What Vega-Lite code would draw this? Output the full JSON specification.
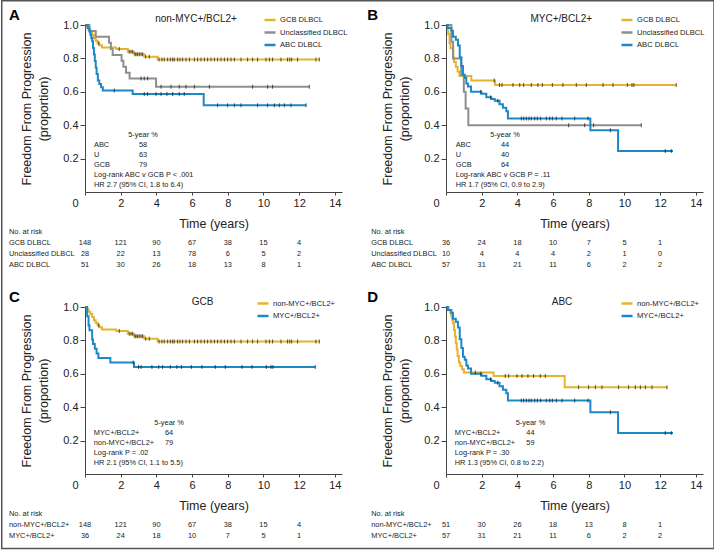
{
"$schema": "https://vega.github.io/schema/vega-lite/v6.json",
"padding": 0,
"autosize": {"type": "pad"},
"background": "white",
"columns": 2,
"spacing": {"column": 104, "row": 115},
"bounds": "flush",
"resolve": {"scale": {"color": "independent"}, "legend": {"color": "independent"}},
"config": {
 "view": {"stroke": null},
 "axis": {"grid": false, "labelOverlap": false, "labelFont": "Liberation Sans", "labelFontSize": 11, "labelColor": "#222", "titleFont": "Liberation Sans", "titleFontSize": 12.5, "titleFontWeight": "normal", "titleColor": "#222", "domainColor": "#444", "tickColor": "#444"},
 "text": {"font": "Liberation Sans", "fontSize": 7.4, "color": "#222"},
 "legend": {"symbolType": "stroke", "symbolSize": 121, "symbolStrokeWidth": 2.5, "labelFont": "Liberation Sans", "labelFontSize": 7.6, "labelColor": "#222", "rowPadding": 0.5, "padding": 0, "labelOffset": 3}
},
"datasets": {
"km": [
{"m":"non-MYC+/BCL2+","c":"GCB DLBCL","t":0,"s":1},{"m":"non-MYC+/BCL2+","c":"GCB DLBCL","t":0.1,"s":0.986},{"m":"non-MYC+/BCL2+","c":"GCB DLBCL","t":0.2,"s":0.972},{"m":"non-MYC+/BCL2+","c":"GCB DLBCL","t":0.3,"s":0.958},{"m":"non-MYC+/BCL2+","c":"GCB DLBCL","t":0.4,"s":0.94},{"m":"non-MYC+/BCL2+","c":"GCB DLBCL","t":0.5,"s":0.92},{"m":"non-MYC+/BCL2+","c":"GCB DLBCL","t":0.6,"s":0.905},{"m":"non-MYC+/BCL2+","c":"GCB DLBCL","t":0.7,"s":0.89},{"m":"non-MYC+/BCL2+","c":"GCB DLBCL","t":0.8,"s":0.878},{"m":"non-MYC+/BCL2+","c":"GCB DLBCL","t":0.95,"s":0.865},{"m":"non-MYC+/BCL2+","c":"GCB DLBCL","t":1.75,"s":0.856},{"m":"non-MYC+/BCL2+","c":"GCB DLBCL","t":2.4,"s":0.84},{"m":"non-MYC+/BCL2+","c":"GCB DLBCL","t":2.75,"s":0.825},{"m":"non-MYC+/BCL2+","c":"GCB DLBCL","t":3.32,"s":0.81},{"m":"non-MYC+/BCL2+","c":"GCB DLBCL","t":4.07,"s":0.794},{"m":"non-MYC+/BCL2+","c":"GCB DLBCL","t":13.13,"s":0.794},
{"m":"non-MYC+/BCL2+","c":"Unclassified DLBCL","t":0,"s":1},{"m":"non-MYC+/BCL2+","c":"Unclassified DLBCL","t":0.25,"s":0.964},{"m":"non-MYC+/BCL2+","c":"Unclassified DLBCL","t":0.6,"s":0.929},{"m":"non-MYC+/BCL2+","c":"Unclassified DLBCL","t":1.35,"s":0.893},{"m":"non-MYC+/BCL2+","c":"Unclassified DLBCL","t":1.45,"s":0.857},{"m":"non-MYC+/BCL2+","c":"Unclassified DLBCL","t":1.55,"s":0.821},{"m":"non-MYC+/BCL2+","c":"Unclassified DLBCL","t":2.05,"s":0.786},{"m":"non-MYC+/BCL2+","c":"Unclassified DLBCL","t":2.15,"s":0.75},{"m":"non-MYC+/BCL2+","c":"Unclassified DLBCL","t":2.3,"s":0.714},{"m":"non-MYC+/BCL2+","c":"Unclassified DLBCL","t":2.5,"s":0.679},{"m":"non-MYC+/BCL2+","c":"Unclassified DLBCL","t":3.98,"s":0.63},{"m":"non-MYC+/BCL2+","c":"Unclassified DLBCL","t":12.57,"s":0.63},
{"m":"non-MYC+/BCL2+","c":"ABC DLBCL","t":0,"s":1},{"m":"non-MYC+/BCL2+","c":"ABC DLBCL","t":0.15,"s":0.98},{"m":"non-MYC+/BCL2+","c":"ABC DLBCL","t":0.25,"s":0.961},{"m":"non-MYC+/BCL2+","c":"ABC DLBCL","t":0.3,"s":0.941},{"m":"non-MYC+/BCL2+","c":"ABC DLBCL","t":0.35,"s":0.922},{"m":"non-MYC+/BCL2+","c":"ABC DLBCL","t":0.4,"s":0.902},{"m":"non-MYC+/BCL2+","c":"ABC DLBCL","t":0.45,"s":0.863},{"m":"non-MYC+/BCL2+","c":"ABC DLBCL","t":0.5,"s":0.824},{"m":"non-MYC+/BCL2+","c":"ABC DLBCL","t":0.55,"s":0.784},{"m":"non-MYC+/BCL2+","c":"ABC DLBCL","t":0.6,"s":0.745},{"m":"non-MYC+/BCL2+","c":"ABC DLBCL","t":0.65,"s":0.706},{"m":"non-MYC+/BCL2+","c":"ABC DLBCL","t":0.72,"s":0.667},{"m":"non-MYC+/BCL2+","c":"ABC DLBCL","t":0.8,"s":0.647},{"m":"non-MYC+/BCL2+","c":"ABC DLBCL","t":0.9,"s":0.627},{"m":"non-MYC+/BCL2+","c":"ABC DLBCL","t":1.0,"s":0.608},{"m":"non-MYC+/BCL2+","c":"ABC DLBCL","t":2.67,"s":0.587},{"m":"non-MYC+/BCL2+","c":"ABC DLBCL","t":6.65,"s":0.52},{"m":"non-MYC+/BCL2+","c":"ABC DLBCL","t":12.4,"s":0.52},
{"m":"MYC+/BCL2+","c":"GCB DLBCL","t":0,"s":1},{"m":"MYC+/BCL2+","c":"GCB DLBCL","t":0.12,"s":0.944},{"m":"MYC+/BCL2+","c":"GCB DLBCL","t":0.2,"s":0.889},{"m":"MYC+/BCL2+","c":"GCB DLBCL","t":0.25,"s":0.861},{"m":"MYC+/BCL2+","c":"GCB DLBCL","t":0.4,"s":0.806},{"m":"MYC+/BCL2+","c":"GCB DLBCL","t":0.45,"s":0.778},{"m":"MYC+/BCL2+","c":"GCB DLBCL","t":0.55,"s":0.75},{"m":"MYC+/BCL2+","c":"GCB DLBCL","t":0.65,"s":0.722},{"m":"MYC+/BCL2+","c":"GCB DLBCL","t":0.75,"s":0.694},{"m":"MYC+/BCL2+","c":"GCB DLBCL","t":1.42,"s":0.667},{"m":"MYC+/BCL2+","c":"GCB DLBCL","t":2.75,"s":0.64},{"m":"MYC+/BCL2+","c":"GCB DLBCL","t":12.9,"s":0.64},
{"m":"MYC+/BCL2+","c":"Unclassified DLBCL","t":0,"s":1},{"m":"MYC+/BCL2+","c":"Unclassified DLBCL","t":0.3,"s":0.9},{"m":"MYC+/BCL2+","c":"Unclassified DLBCL","t":0.4,"s":0.8},{"m":"MYC+/BCL2+","c":"Unclassified DLBCL","t":0.85,"s":0.7},{"m":"MYC+/BCL2+","c":"Unclassified DLBCL","t":1.0,"s":0.6},{"m":"MYC+/BCL2+","c":"Unclassified DLBCL","t":1.1,"s":0.5},{"m":"MYC+/BCL2+","c":"Unclassified DLBCL","t":1.25,"s":0.4},{"m":"MYC+/BCL2+","c":"Unclassified DLBCL","t":10.94,"s":0.4},
{"m":"MYC+/BCL2+","c":"ABC DLBCL","t":0,"s":1},{"m":"MYC+/BCL2+","c":"ABC DLBCL","t":0.1,"s":0.982},{"m":"MYC+/BCL2+","c":"ABC DLBCL","t":0.3,"s":0.965},{"m":"MYC+/BCL2+","c":"ABC DLBCL","t":0.39,"s":0.93},{"m":"MYC+/BCL2+","c":"ABC DLBCL","t":0.55,"s":0.912},{"m":"MYC+/BCL2+","c":"ABC DLBCL","t":0.67,"s":0.877},{"m":"MYC+/BCL2+","c":"ABC DLBCL","t":0.77,"s":0.807},{"m":"MYC+/BCL2+","c":"ABC DLBCL","t":0.86,"s":0.754},{"m":"MYC+/BCL2+","c":"ABC DLBCL","t":0.95,"s":0.702},{"m":"MYC+/BCL2+","c":"ABC DLBCL","t":1.05,"s":0.684},{"m":"MYC+/BCL2+","c":"ABC DLBCL","t":1.14,"s":0.649},{"m":"MYC+/BCL2+","c":"ABC DLBCL","t":1.23,"s":0.632},{"m":"MYC+/BCL2+","c":"ABC DLBCL","t":1.4,"s":0.6},{"m":"MYC+/BCL2+","c":"ABC DLBCL","t":1.98,"s":0.589},{"m":"MYC+/BCL2+","c":"ABC DLBCL","t":2.26,"s":0.568},{"m":"MYC+/BCL2+","c":"ABC DLBCL","t":2.54,"s":0.557},{"m":"MYC+/BCL2+","c":"ABC DLBCL","t":2.73,"s":0.546},{"m":"MYC+/BCL2+","c":"ABC DLBCL","t":3.0,"s":0.525},{"m":"MYC+/BCL2+","c":"ABC DLBCL","t":3.19,"s":0.504},{"m":"MYC+/BCL2+","c":"ABC DLBCL","t":3.38,"s":0.483},{"m":"MYC+/BCL2+","c":"ABC DLBCL","t":3.47,"s":0.44},{"m":"MYC+/BCL2+","c":"ABC DLBCL","t":8.09,"s":0.37},{"m":"MYC+/BCL2+","c":"ABC DLBCL","t":9.64,"s":0.245},{"m":"MYC+/BCL2+","c":"ABC DLBCL","t":12.72,"s":0.245}
],
"cens": [
{"m":"non-MYC+/BCL2+","c":"GCB DLBCL","t":0.77,"s":0.89},{"m":"non-MYC+/BCL2+","c":"GCB DLBCL","t":1.92,"s":0.856},{"m":"non-MYC+/BCL2+","c":"GCB DLBCL","t":2.48,"s":0.84},{"m":"non-MYC+/BCL2+","c":"GCB DLBCL","t":2.58,"s":0.84},{"m":"non-MYC+/BCL2+","c":"GCB DLBCL","t":2.67,"s":0.84},{"m":"non-MYC+/BCL2+","c":"GCB DLBCL","t":2.8,"s":0.825},{"m":"non-MYC+/BCL2+","c":"GCB DLBCL","t":2.86,"s":0.825},{"m":"non-MYC+/BCL2+","c":"GCB DLBCL","t":2.95,"s":0.825},{"m":"non-MYC+/BCL2+","c":"GCB DLBCL","t":3.04,"s":0.825},{"m":"non-MYC+/BCL2+","c":"GCB DLBCL","t":3.14,"s":0.825},{"m":"non-MYC+/BCL2+","c":"GCB DLBCL","t":3.23,"s":0.825},{"m":"non-MYC+/BCL2+","c":"GCB DLBCL","t":3.4,"s":0.81},{"m":"non-MYC+/BCL2+","c":"GCB DLBCL","t":3.6,"s":0.81},{"m":"non-MYC+/BCL2+","c":"GCB DLBCL","t":4.15,"s":0.794},{"m":"non-MYC+/BCL2+","c":"GCB DLBCL","t":4.31,"s":0.794},{"m":"non-MYC+/BCL2+","c":"GCB DLBCL","t":4.44,"s":0.794},{"m":"non-MYC+/BCL2+","c":"GCB DLBCL","t":4.63,"s":0.794},{"m":"non-MYC+/BCL2+","c":"GCB DLBCL","t":4.78,"s":0.794},{"m":"non-MYC+/BCL2+","c":"GCB DLBCL","t":4.91,"s":0.794},{"m":"non-MYC+/BCL2+","c":"GCB DLBCL","t":5.0,"s":0.794},{"m":"non-MYC+/BCL2+","c":"GCB DLBCL","t":5.19,"s":0.794},{"m":"non-MYC+/BCL2+","c":"GCB DLBCL","t":5.32,"s":0.794},{"m":"non-MYC+/BCL2+","c":"GCB DLBCL","t":5.47,"s":0.794},{"m":"non-MYC+/BCL2+","c":"GCB DLBCL","t":5.66,"s":0.794},{"m":"non-MYC+/BCL2+","c":"GCB DLBCL","t":5.85,"s":0.794},{"m":"non-MYC+/BCL2+","c":"GCB DLBCL","t":6.13,"s":0.794},{"m":"non-MYC+/BCL2+","c":"GCB DLBCL","t":6.31,"s":0.794},{"m":"non-MYC+/BCL2+","c":"GCB DLBCL","t":6.5,"s":0.794},{"m":"non-MYC+/BCL2+","c":"GCB DLBCL","t":6.69,"s":0.794},{"m":"non-MYC+/BCL2+","c":"GCB DLBCL","t":6.87,"s":0.794},{"m":"non-MYC+/BCL2+","c":"GCB DLBCL","t":7.06,"s":0.794},{"m":"non-MYC+/BCL2+","c":"GCB DLBCL","t":7.25,"s":0.794},{"m":"non-MYC+/BCL2+","c":"GCB DLBCL","t":7.43,"s":0.794},{"m":"non-MYC+/BCL2+","c":"GCB DLBCL","t":7.62,"s":0.794},{"m":"non-MYC+/BCL2+","c":"GCB DLBCL","t":7.81,"s":0.794},{"m":"non-MYC+/BCL2+","c":"GCB DLBCL","t":7.99,"s":0.794},{"m":"non-MYC+/BCL2+","c":"GCB DLBCL","t":8.18,"s":0.794},{"m":"non-MYC+/BCL2+","c":"GCB DLBCL","t":8.37,"s":0.794},{"m":"non-MYC+/BCL2+","c":"GCB DLBCL","t":8.74,"s":0.794},{"m":"non-MYC+/BCL2+","c":"GCB DLBCL","t":9.11,"s":0.794},{"m":"non-MYC+/BCL2+","c":"GCB DLBCL","t":9.39,"s":0.794},{"m":"non-MYC+/BCL2+","c":"GCB DLBCL","t":9.67,"s":0.794},{"m":"non-MYC+/BCL2+","c":"GCB DLBCL","t":10.14,"s":0.794},{"m":"non-MYC+/BCL2+","c":"GCB DLBCL","t":10.33,"s":0.794},{"m":"non-MYC+/BCL2+","c":"GCB DLBCL","t":10.51,"s":0.794},{"m":"non-MYC+/BCL2+","c":"GCB DLBCL","t":10.98,"s":0.794},{"m":"non-MYC+/BCL2+","c":"GCB DLBCL","t":11.35,"s":0.794},{"m":"non-MYC+/BCL2+","c":"GCB DLBCL","t":11.47,"s":0.794},{"m":"non-MYC+/BCL2+","c":"GCB DLBCL","t":11.58,"s":0.794},{"m":"non-MYC+/BCL2+","c":"GCB DLBCL","t":11.91,"s":0.794},{"m":"non-MYC+/BCL2+","c":"GCB DLBCL","t":12.94,"s":0.794},{"m":"non-MYC+/BCL2+","c":"GCB DLBCL","t":13.13,"s":0.794},
{"m":"non-MYC+/BCL2+","c":"Unclassified DLBCL","t":3.14,"s":0.679},{"m":"non-MYC+/BCL2+","c":"Unclassified DLBCL","t":3.32,"s":0.679},{"m":"non-MYC+/BCL2+","c":"Unclassified DLBCL","t":3.51,"s":0.679},{"m":"non-MYC+/BCL2+","c":"Unclassified DLBCL","t":4.26,"s":0.63},{"m":"non-MYC+/BCL2+","c":"Unclassified DLBCL","t":4.82,"s":0.63},{"m":"non-MYC+/BCL2+","c":"Unclassified DLBCL","t":5.28,"s":0.63},{"m":"non-MYC+/BCL2+","c":"Unclassified DLBCL","t":5.66,"s":0.63},{"m":"non-MYC+/BCL2+","c":"Unclassified DLBCL","t":6.13,"s":0.63},{"m":"non-MYC+/BCL2+","c":"Unclassified DLBCL","t":6.97,"s":0.63},{"m":"non-MYC+/BCL2+","c":"Unclassified DLBCL","t":9.39,"s":0.63},{"m":"non-MYC+/BCL2+","c":"Unclassified DLBCL","t":10.23,"s":0.63},{"m":"non-MYC+/BCL2+","c":"Unclassified DLBCL","t":10.51,"s":0.63},{"m":"non-MYC+/BCL2+","c":"Unclassified DLBCL","t":12.57,"s":0.63},
{"m":"non-MYC+/BCL2+","c":"ABC DLBCL","t":1.64,"s":0.608},{"m":"non-MYC+/BCL2+","c":"ABC DLBCL","t":3.32,"s":0.587},{"m":"non-MYC+/BCL2+","c":"ABC DLBCL","t":3.51,"s":0.587},{"m":"non-MYC+/BCL2+","c":"ABC DLBCL","t":3.98,"s":0.587},{"m":"non-MYC+/BCL2+","c":"ABC DLBCL","t":4.26,"s":0.587},{"m":"non-MYC+/BCL2+","c":"ABC DLBCL","t":4.59,"s":0.587},{"m":"non-MYC+/BCL2+","c":"ABC DLBCL","t":4.91,"s":0.587},{"m":"non-MYC+/BCL2+","c":"ABC DLBCL","t":5.28,"s":0.587},{"m":"non-MYC+/BCL2+","c":"ABC DLBCL","t":5.56,"s":0.587},{"m":"non-MYC+/BCL2+","c":"ABC DLBCL","t":7.43,"s":0.52},{"m":"non-MYC+/BCL2+","c":"ABC DLBCL","t":7.99,"s":0.52},{"m":"non-MYC+/BCL2+","c":"ABC DLBCL","t":8.37,"s":0.52},{"m":"non-MYC+/BCL2+","c":"ABC DLBCL","t":8.74,"s":0.52},{"m":"non-MYC+/BCL2+","c":"ABC DLBCL","t":9.67,"s":0.52},{"m":"non-MYC+/BCL2+","c":"ABC DLBCL","t":10.23,"s":0.52},{"m":"non-MYC+/BCL2+","c":"ABC DLBCL","t":10.61,"s":0.52},{"m":"non-MYC+/BCL2+","c":"ABC DLBCL","t":10.89,"s":0.52},{"m":"non-MYC+/BCL2+","c":"ABC DLBCL","t":11.17,"s":0.52},{"m":"non-MYC+/BCL2+","c":"ABC DLBCL","t":11.54,"s":0.52},{"m":"non-MYC+/BCL2+","c":"ABC DLBCL","t":12.38,"s":0.52},
{"m":"MYC+/BCL2+","c":"GCB DLBCL","t":2.7,"s":0.667},{"m":"MYC+/BCL2+","c":"GCB DLBCL","t":3.0,"s":0.64},{"m":"MYC+/BCL2+","c":"GCB DLBCL","t":3.14,"s":0.64},{"m":"MYC+/BCL2+","c":"GCB DLBCL","t":3.75,"s":0.64},{"m":"MYC+/BCL2+","c":"GCB DLBCL","t":4.13,"s":0.64},{"m":"MYC+/BCL2+","c":"GCB DLBCL","t":4.35,"s":0.64},{"m":"MYC+/BCL2+","c":"GCB DLBCL","t":4.78,"s":0.64},{"m":"MYC+/BCL2+","c":"GCB DLBCL","t":5.15,"s":0.64},{"m":"MYC+/BCL2+","c":"GCB DLBCL","t":5.4,"s":0.64},{"m":"MYC+/BCL2+","c":"GCB DLBCL","t":5.96,"s":0.64},{"m":"MYC+/BCL2+","c":"GCB DLBCL","t":6.55,"s":0.64},{"m":"MYC+/BCL2+","c":"GCB DLBCL","t":7.3,"s":0.64},{"m":"MYC+/BCL2+","c":"GCB DLBCL","t":7.86,"s":0.64},{"m":"MYC+/BCL2+","c":"GCB DLBCL","t":8.8,"s":0.64},{"m":"MYC+/BCL2+","c":"GCB DLBCL","t":9.36,"s":0.64},{"m":"MYC+/BCL2+","c":"GCB DLBCL","t":10.16,"s":0.64},{"m":"MYC+/BCL2+","c":"GCB DLBCL","t":10.42,"s":0.64},{"m":"MYC+/BCL2+","c":"GCB DLBCL","t":10.53,"s":0.64},{"m":"MYC+/BCL2+","c":"GCB DLBCL","t":12.9,"s":0.64},
{"m":"MYC+/BCL2+","c":"Unclassified DLBCL","t":6.87,"s":0.4},{"m":"MYC+/BCL2+","c":"Unclassified DLBCL","t":7.77,"s":0.4},{"m":"MYC+/BCL2+","c":"Unclassified DLBCL","t":8.27,"s":0.4},{"m":"MYC+/BCL2+","c":"Unclassified DLBCL","t":10.94,"s":0.4},
{"m":"MYC+/BCL2+","c":"ABC DLBCL","t":1.95,"s":0.6},{"m":"MYC+/BCL2+","c":"ABC DLBCL","t":2.5,"s":0.568},{"m":"MYC+/BCL2+","c":"ABC DLBCL","t":2.9,"s":0.546},{"m":"MYC+/BCL2+","c":"ABC DLBCL","t":4.22,"s":0.44},{"m":"MYC+/BCL2+","c":"ABC DLBCL","t":4.35,"s":0.44},{"m":"MYC+/BCL2+","c":"ABC DLBCL","t":4.5,"s":0.44},{"m":"MYC+/BCL2+","c":"ABC DLBCL","t":4.65,"s":0.44},{"m":"MYC+/BCL2+","c":"ABC DLBCL","t":4.78,"s":0.44},{"m":"MYC+/BCL2+","c":"ABC DLBCL","t":4.97,"s":0.44},{"m":"MYC+/BCL2+","c":"ABC DLBCL","t":5.12,"s":0.44},{"m":"MYC+/BCL2+","c":"ABC DLBCL","t":5.3,"s":0.44},{"m":"MYC+/BCL2+","c":"ABC DLBCL","t":5.62,"s":0.44},{"m":"MYC+/BCL2+","c":"ABC DLBCL","t":5.81,"s":0.44},{"m":"MYC+/BCL2+","c":"ABC DLBCL","t":5.96,"s":0.44},{"m":"MYC+/BCL2+","c":"ABC DLBCL","t":6.18,"s":0.44},{"m":"MYC+/BCL2+","c":"ABC DLBCL","t":6.5,"s":0.44},{"m":"MYC+/BCL2+","c":"ABC DLBCL","t":7.21,"s":0.44},{"m":"MYC+/BCL2+","c":"ABC DLBCL","t":7.96,"s":0.44},{"m":"MYC+/BCL2+","c":"ABC DLBCL","t":9.21,"s":0.37},{"m":"MYC+/BCL2+","c":"ABC DLBCL","t":12.29,"s":0.245},{"m":"MYC+/BCL2+","c":"ABC DLBCL","t":12.62,"s":0.245}
],
"risk": [
{"p":"A","r":1,"t":0,"n":148},{"p":"A","r":1,"t":2,"n":121},{"p":"A","r":1,"t":4,"n":90},{"p":"A","r":1,"t":6,"n":67},{"p":"A","r":1,"t":8,"n":38},{"p":"A","r":1,"t":10,"n":15},{"p":"A","r":1,"t":12,"n":4},
{"p":"A","r":2,"t":0,"n":28},{"p":"A","r":2,"t":2,"n":22},{"p":"A","r":2,"t":4,"n":13},{"p":"A","r":2,"t":6,"n":78},{"p":"A","r":2,"t":8,"n":6},{"p":"A","r":2,"t":10,"n":5},{"p":"A","r":2,"t":12,"n":2},
{"p":"A","r":3,"t":0,"n":51},{"p":"A","r":3,"t":2,"n":30},{"p":"A","r":3,"t":4,"n":26},{"p":"A","r":3,"t":6,"n":18},{"p":"A","r":3,"t":8,"n":13},{"p":"A","r":3,"t":10,"n":8},{"p":"A","r":3,"t":12,"n":1},
{"p":"B","r":1,"t":0,"n":36},{"p":"B","r":1,"t":2,"n":24},{"p":"B","r":1,"t":4,"n":18},{"p":"B","r":1,"t":6,"n":10},{"p":"B","r":1,"t":8,"n":7},{"p":"B","r":1,"t":10,"n":5},{"p":"B","r":1,"t":12,"n":1},
{"p":"B","r":2,"t":0,"n":10},{"p":"B","r":2,"t":2,"n":4},{"p":"B","r":2,"t":4,"n":4},{"p":"B","r":2,"t":6,"n":4},{"p":"B","r":2,"t":8,"n":2},{"p":"B","r":2,"t":10,"n":1},{"p":"B","r":2,"t":12,"n":0},
{"p":"B","r":3,"t":0,"n":57},{"p":"B","r":3,"t":2,"n":31},{"p":"B","r":3,"t":4,"n":21},{"p":"B","r":3,"t":6,"n":11},{"p":"B","r":3,"t":8,"n":6},{"p":"B","r":3,"t":10,"n":2},{"p":"B","r":3,"t":12,"n":2},
{"p":"C","r":1,"t":0,"n":148},{"p":"C","r":1,"t":2,"n":121},{"p":"C","r":1,"t":4,"n":90},{"p":"C","r":1,"t":6,"n":67},{"p":"C","r":1,"t":8,"n":38},{"p":"C","r":1,"t":10,"n":15},{"p":"C","r":1,"t":12,"n":4},
{"p":"C","r":2,"t":0,"n":36},{"p":"C","r":2,"t":2,"n":24},{"p":"C","r":2,"t":4,"n":18},{"p":"C","r":2,"t":6,"n":10},{"p":"C","r":2,"t":8,"n":7},{"p":"C","r":2,"t":10,"n":5},{"p":"C","r":2,"t":12,"n":1},
{"p":"D","r":1,"t":0,"n":51},{"p":"D","r":1,"t":2,"n":30},{"p":"D","r":1,"t":4,"n":26},{"p":"D","r":1,"t":6,"n":18},{"p":"D","r":1,"t":8,"n":13},{"p":"D","r":1,"t":10,"n":8},{"p":"D","r":1,"t":12,"n":1},
{"p":"D","r":2,"t":0,"n":57},{"p":"D","r":2,"t":2,"n":31},{"p":"D","r":2,"t":4,"n":21},{"p":"D","r":2,"t":6,"n":11},{"p":"D","r":2,"t":8,"n":6},{"p":"D","r":2,"t":10,"n":2},{"p":"D","r":2,"t":12,"n":2}
]
},
"concat": [
{
 "width": 257, "height": 167,
 "layer": [
  {"data": {"name": "km"}, "transform": [{"filter": "datum.m === 'non-MYC+/BCL2+'"}],
   "mark": {"type": "line", "interpolate": "step-after", "strokeWidth": 2},
   "encoding": {
    "x": {"field": "t", "type": "quantitative", "scale": {"domain": [0, 14.4], "nice": false}, "axis": {"values": [0,2,4,6,8,10,12,14], "tickCount": 20, "title": "Time (years)", "tickSize": 3, "labelPadding": 2, "titlePadding": 9, "labelOverlap": false, "labelFlush": false, "labelOffset": {"condition": {"test": "datum.value === 0", "value": -10}, "value": 0}}},
    "y": {"field": "s", "type": "quantitative", "scale": {"domain": [0, 1], "nice": false}, "axis": {"values": [0.2,0.4,0.6,0.8,1], "tickCount": 10, "format": ".1f", "title": ["Freedom From Progression", "(proportion)"], "tickSize": 5, "labelPadding": 2, "titlePadding": 12, "titleLineHeight": 17}},
    "color": {"field": "c", "type": "nominal", "scale": {"domain": ["GCB DLBCL", "Unclassified DLBCL", "ABC DLBCL"], "range": ["#E4B42D", "#8E8E8E", "#1D88C7"]}, "legend": {"orient": "none", "legendX": 178, "legendY": -12, "title": null}}
   }},
  {"data": {"name": "cens"}, "transform": [{"filter": "datum.m === 'non-MYC+/BCL2+'"}],
   "mark": {"type": "tick", "orient": "vertical", "size": 4, "thickness": 1, "color": "#111"},
   "encoding": {"x": {"field": "t", "type": "quantitative"}, "y": {"field": "s", "type": "quantitative"}}},
  {"data": {"values": [{}]}, "mark": {"type": "rect", "filled": false, "stroke": "#555", "strokeWidth": 1.5},
   "encoding": {"x": {"datum": -4.665}, "x2": {"datum": 35.244}, "y": {"datum": 1.1452}, "y2": {"datum": -2.1347}}},
  {"data": {"values": [{}]}, "mark": {"type": "text", "font": "Liberation Sans", "fontWeight": "bold", "fontSize": 15, "align": "left", "baseline": "middle", "color": "#000"},
   "encoding": {"x": {"datum": -4.26}, "y": {"datum": 1.062}, "text": {"value": "A"}}},
  {"data": {"values": [{}]}, "mark": {"type": "text", "font": "Liberation Sans", "fontSize": 10, "align": "center", "baseline": "middle", "color": "#222"},
   "encoding": {"x": {"datum": 6.22}, "y": {"datum": 1.036}, "text": {"value": "non-MYC+/BCL2+"}}},
  {"data": {"values": [{}]}, "mark": {"type": "text", "align": "left", "baseline": "alphabetic", "lineHeight": 9.95},
   "encoding": {"x": {"datum": 0.504}, "y": {"datum": 0.329}, "text": {"value": ["", "ABC", "U", "GCB", "Log-rank ABC v GCB P < .001", "HR 2.7 (95% CI, 1.8 to 6.4)"]}}},
  {"data": {"values": [{}]}, "mark": {"type": "text", "align": "center", "baseline": "alphabetic", "lineHeight": 9.95},
   "encoding": {"x": {"datum": 3.25}, "y": {"datum": 0.329}, "text": {"value": ["5-year %", "58", "63", "79"]}}},
  {"data": {"values": [{}]}, "mark": {"type": "text", "align": "left", "baseline": "alphabetic", "lineHeight": 11},
   "encoding": {"x": {"datum": -4.258}, "y": {"datum": -0.2515}, "text": {"value": ["No. at risk", "GCB DLBCL", "Unclassified DLBCL", "ABC DLBCL"]}}},
  {"data": {"name": "risk"}, "transform": [{"filter": "datum.p === 'A' && datum.r === 1"}], "mark": {"type": "text", "align": "center", "baseline": "alphabetic"},
   "encoding": {"x": {"field": "t", "type": "quantitative"}, "y": {"datum": -0.3174}, "text": {"field": "n", "type": "nominal"}}},
  {"data": {"name": "risk"}, "transform": [{"filter": "datum.p === 'A' && datum.r === 2"}], "mark": {"type": "text", "align": "center", "baseline": "alphabetic"},
   "encoding": {"x": {"field": "t", "type": "quantitative"}, "y": {"datum": -0.3832}, "text": {"field": "n", "type": "nominal"}}},
  {"data": {"name": "risk"}, "transform": [{"filter": "datum.p === 'A' && datum.r === 3"}], "mark": {"type": "text", "align": "center", "baseline": "alphabetic"},
   "encoding": {"x": {"field": "t", "type": "quantitative"}, "y": {"datum": -0.4491}, "text": {"field": "n", "type": "nominal"}}}
 ]
},
{
 "width": 257, "height": 167,
 "layer": [
  {"data": {"name": "km"}, "transform": [{"filter": "datum.m === 'MYC+/BCL2+'"}],
   "mark": {"type": "line", "interpolate": "step-after", "strokeWidth": 2},
   "encoding": {
    "x": {"field": "t", "type": "quantitative", "scale": {"domain": [0, 14.4], "nice": false}, "axis": {"values": [0,2,4,6,8,10,12,14], "tickCount": 20, "title": "Time (years)", "tickSize": 3, "labelPadding": 2, "titlePadding": 9, "labelOverlap": false, "labelFlush": false, "labelOffset": {"condition": {"test": "datum.value === 0", "value": -10}, "value": 0}}},
    "y": {"field": "s", "type": "quantitative", "scale": {"domain": [0, 1], "nice": false}, "axis": {"values": [0.2,0.4,0.6,0.8,1], "tickCount": 10, "format": ".1f", "title": ["Freedom From Progression", "(proportion)"], "tickSize": 5, "labelPadding": 2, "titlePadding": 12, "titleLineHeight": 17}},
    "color": {"field": "c", "type": "nominal", "scale": {"domain": ["GCB DLBCL", "Unclassified DLBCL", "ABC DLBCL"], "range": ["#E4B42D", "#8E8E8E", "#1D88C7"]}, "legend": {"orient": "none", "legendX": 174, "legendY": -12, "title": null}}
   }},
  {"data": {"name": "cens"}, "transform": [{"filter": "datum.m === 'MYC+/BCL2+'"}],
   "mark": {"type": "tick", "orient": "vertical", "size": 4, "thickness": 1, "color": "#111"},
   "encoding": {"x": {"field": "t", "type": "quantitative"}, "y": {"field": "s", "type": "quantitative"}}},
  {"data": {"values": [{}]}, "mark": {"type": "text", "font": "Liberation Sans", "fontWeight": "bold", "fontSize": 15, "align": "left", "baseline": "middle", "color": "#000"},
   "encoding": {"x": {"datum": -4.41}, "y": {"datum": 1.062}, "text": {"value": "B"}}},
  {"data": {"values": [{}]}, "mark": {"type": "text", "font": "Liberation Sans", "fontSize": 10, "align": "center", "baseline": "middle", "color": "#222"},
   "encoding": {"x": {"datum": 6.46}, "y": {"datum": 1.036}, "text": {"value": "MYC+/BCL2+"}}},
  {"data": {"values": [{}]}, "mark": {"type": "text", "align": "left", "baseline": "alphabetic", "lineHeight": 9.95},
   "encoding": {"x": {"datum": 0.54}, "y": {"datum": 0.329}, "text": {"value": ["", "ABC", "U", "GCB", "Log-rank ABC v GCB P = .11", "HR 1.7 (95% CI, 0.9 to 2.9)"]}}},
  {"data": {"values": [{}]}, "mark": {"type": "text", "align": "center", "baseline": "alphabetic", "lineHeight": 9.95},
   "encoding": {"x": {"datum": 3.31}, "y": {"datum": 0.329}, "text": {"value": ["5-year %", "44", "40", "64"]}}},
  {"data": {"values": [{}]}, "mark": {"type": "text", "align": "left", "baseline": "alphabetic", "lineHeight": 11},
   "encoding": {"x": {"datum": -4.19}, "y": {"datum": -0.2515}, "text": {"value": ["No. at risk", "GCB DLBCL", "Unclassified DLBCL", "ABC DLBCL"]}}},
  {"data": {"name": "risk"}, "transform": [{"filter": "datum.p === 'B' && datum.r === 1"}], "mark": {"type": "text", "align": "center", "baseline": "alphabetic"},
   "encoding": {"x": {"field": "t", "type": "quantitative"}, "y": {"datum": -0.3174}, "text": {"field": "n", "type": "nominal"}}},
  {"data": {"name": "risk"}, "transform": [{"filter": "datum.p === 'B' && datum.r === 2"}], "mark": {"type": "text", "align": "center", "baseline": "alphabetic"},
   "encoding": {"x": {"field": "t", "type": "quantitative"}, "y": {"datum": -0.3832}, "text": {"field": "n", "type": "nominal"}}},
  {"data": {"name": "risk"}, "transform": [{"filter": "datum.p === 'B' && datum.r === 3"}], "mark": {"type": "text", "align": "center", "baseline": "alphabetic"},
   "encoding": {"x": {"field": "t", "type": "quantitative"}, "y": {"datum": -0.4491}, "text": {"field": "n", "type": "nominal"}}}
 ]
},
{
 "width": 257, "height": 167,
 "layer": [
  {"data": {"name": "km"}, "transform": [{"filter": "datum.c === 'GCB DLBCL'"}],
   "mark": {"type": "line", "interpolate": "step-after", "strokeWidth": 2},
   "encoding": {
    "x": {"field": "t", "type": "quantitative", "scale": {"domain": [0, 14.4], "nice": false}, "axis": {"values": [0,2,4,6,8,10,12,14], "tickCount": 20, "title": "Time (years)", "tickSize": 3, "labelPadding": 2, "titlePadding": 9, "labelOverlap": false, "labelFlush": false, "labelOffset": {"condition": {"test": "datum.value === 0", "value": -10}, "value": 0}}},
    "y": {"field": "s", "type": "quantitative", "scale": {"domain": [0, 1], "nice": false}, "axis": {"values": [0.2,0.4,0.6,0.8,1], "tickCount": 10, "format": ".1f", "title": ["Freedom From Progression", "(proportion)"], "tickSize": 5, "labelPadding": 2, "titlePadding": 12, "titleLineHeight": 17}},
    "color": {"field": "m", "type": "nominal", "scale": {"domain": ["non-MYC+/BCL2+", "MYC+/BCL2+"], "range": ["#E4B42D", "#1D88C7"]}, "legend": {"orient": "none", "legendX": 171, "legendY": -10.5, "title": null}}
   }},
  {"data": {"name": "cens"}, "transform": [{"filter": "datum.c === 'GCB DLBCL'"}],
   "mark": {"type": "tick", "orient": "vertical", "size": 4, "thickness": 1, "color": "#111"},
   "encoding": {"x": {"field": "t", "type": "quantitative"}, "y": {"field": "s", "type": "quantitative"}}},
  {"data": {"values": [{}]}, "mark": {"type": "text", "font": "Liberation Sans", "fontWeight": "bold", "fontSize": 15, "align": "left", "baseline": "middle", "color": "#000"},
   "encoding": {"x": {"datum": -4.26}, "y": {"datum": 1.062}, "text": {"value": "C"}}},
  {"data": {"values": [{}]}, "mark": {"type": "text", "font": "Liberation Sans", "fontSize": 10, "align": "center", "baseline": "middle", "color": "#222"},
   "encoding": {"x": {"datum": 6.59}, "y": {"datum": 1.03}, "text": {"value": "GCB"}}},
  {"data": {"values": [{}]}, "mark": {"type": "text", "align": "left", "baseline": "alphabetic", "lineHeight": 10},
   "encoding": {"x": {"datum": 0.49}, "y": {"datum": 0.2916}, "text": {"value": ["", "MYC+/BCL2+", "non-MYC+/BCL2+", "Log-rank P = .02", "HR 2.1 (95% CI, 1.1 to 5.5)"]}}},
  {"data": {"values": [{}]}, "mark": {"type": "text", "align": "center", "baseline": "alphabetic", "lineHeight": 10},
   "encoding": {"x": {"datum": 4.71}, "y": {"datum": 0.2916}, "text": {"value": ["5-year %", "64", "79"]}}},
  {"data": {"values": [{}]}, "mark": {"type": "text", "align": "left", "baseline": "alphabetic", "lineHeight": 11},
   "encoding": {"x": {"datum": -4.258}, "y": {"datum": -0.2515}, "text": {"value": ["No. at risk", "non-MYC+/BCL2+", "MYC+/BCL2+"]}}},
  {"data": {"name": "risk"}, "transform": [{"filter": "datum.p === 'C' && datum.r === 1"}], "mark": {"type": "text", "align": "center", "baseline": "alphabetic"},
   "encoding": {"x": {"field": "t", "type": "quantitative"}, "y": {"datum": -0.3174}, "text": {"field": "n", "type": "nominal"}}},
  {"data": {"name": "risk"}, "transform": [{"filter": "datum.p === 'C' && datum.r === 2"}], "mark": {"type": "text", "align": "center", "baseline": "alphabetic"},
   "encoding": {"x": {"field": "t", "type": "quantitative"}, "y": {"datum": -0.3832}, "text": {"field": "n", "type": "nominal"}}}
 ]
},
{
 "width": 257, "height": 167,
 "layer": [
  {"data": {"name": "km"}, "transform": [{"filter": "datum.c === 'ABC DLBCL'"}],
   "mark": {"type": "line", "interpolate": "step-after", "strokeWidth": 2},
   "encoding": {
    "x": {"field": "t", "type": "quantitative", "scale": {"domain": [0, 14.4], "nice": false}, "axis": {"values": [0,2,4,6,8,10,12,14], "tickCount": 20, "title": "Time (years)", "tickSize": 3, "labelPadding": 2, "titlePadding": 9, "labelOverlap": false, "labelFlush": false, "labelOffset": {"condition": {"test": "datum.value === 0", "value": -10}, "value": 0}}},
    "y": {"field": "s", "type": "quantitative", "scale": {"domain": [0, 1], "nice": false}, "axis": {"values": [0.2,0.4,0.6,0.8,1], "tickCount": 10, "format": ".1f", "title": ["Freedom From Progression", "(proportion)"], "tickSize": 5, "labelPadding": 2, "titlePadding": 12, "titleLineHeight": 17}},
    "color": {"field": "m", "type": "nominal", "scale": {"domain": ["non-MYC+/BCL2+", "MYC+/BCL2+"], "range": ["#E4B42D", "#1D88C7"]}, "legend": {"orient": "none", "legendX": 174, "legendY": -10.5, "title": null}}
   }},
  {"data": {"name": "cens"}, "transform": [{"filter": "datum.c === 'ABC DLBCL'"}],
   "mark": {"type": "tick", "orient": "vertical", "size": 4, "thickness": 1, "color": "#111"},
   "encoding": {"x": {"field": "t", "type": "quantitative"}, "y": {"field": "s", "type": "quantitative"}}},
  {"data": {"values": [{}]}, "mark": {"type": "text", "font": "Liberation Sans", "fontWeight": "bold", "fontSize": 15, "align": "left", "baseline": "middle", "color": "#000"},
   "encoding": {"x": {"datum": -4.41}, "y": {"datum": 1.062}, "text": {"value": "D"}}},
  {"data": {"values": [{}]}, "mark": {"type": "text", "font": "Liberation Sans", "fontSize": 10, "align": "center", "baseline": "middle", "color": "#222"},
   "encoding": {"x": {"datum": 6.5}, "y": {"datum": 1.03}, "text": {"value": "ABC"}}},
  {"data": {"values": [{}]}, "mark": {"type": "text", "align": "left", "baseline": "alphabetic", "lineHeight": 10},
   "encoding": {"x": {"datum": 0.49}, "y": {"datum": 0.2916}, "text": {"value": ["", "MYC+/BCL2+", "non-MYC+/BCL2+", "Log-rank P = .30", "HR 1.3 (95% CI, 0.8 to 2.2)"]}}},
  {"data": {"values": [{}]}, "mark": {"type": "text", "align": "center", "baseline": "alphabetic", "lineHeight": 10},
   "encoding": {"x": {"datum": 4.73}, "y": {"datum": 0.2916}, "text": {"value": ["5-year %", "44", "59"]}}},
  {"data": {"values": [{}]}, "mark": {"type": "text", "align": "left", "baseline": "alphabetic", "lineHeight": 11},
   "encoding": {"x": {"datum": -4.19}, "y": {"datum": -0.2515}, "text": {"value": ["No. at risk", "non-MYC+/BCL2+", "MYC+/BCL2+"]}}},
  {"data": {"name": "risk"}, "transform": [{"filter": "datum.p === 'D' && datum.r === 1"}], "mark": {"type": "text", "align": "center", "baseline": "alphabetic"},
   "encoding": {"x": {"field": "t", "type": "quantitative"}, "y": {"datum": -0.3174}, "text": {"field": "n", "type": "nominal"}}},
  {"data": {"name": "risk"}, "transform": [{"filter": "datum.p === 'D' && datum.r === 2"}], "mark": {"type": "text", "align": "center", "baseline": "alphabetic"},
   "encoding": {"x": {"field": "t", "type": "quantitative"}, "y": {"datum": -0.3832}, "text": {"field": "n", "type": "nominal"}}}
 ]
}
]
}
